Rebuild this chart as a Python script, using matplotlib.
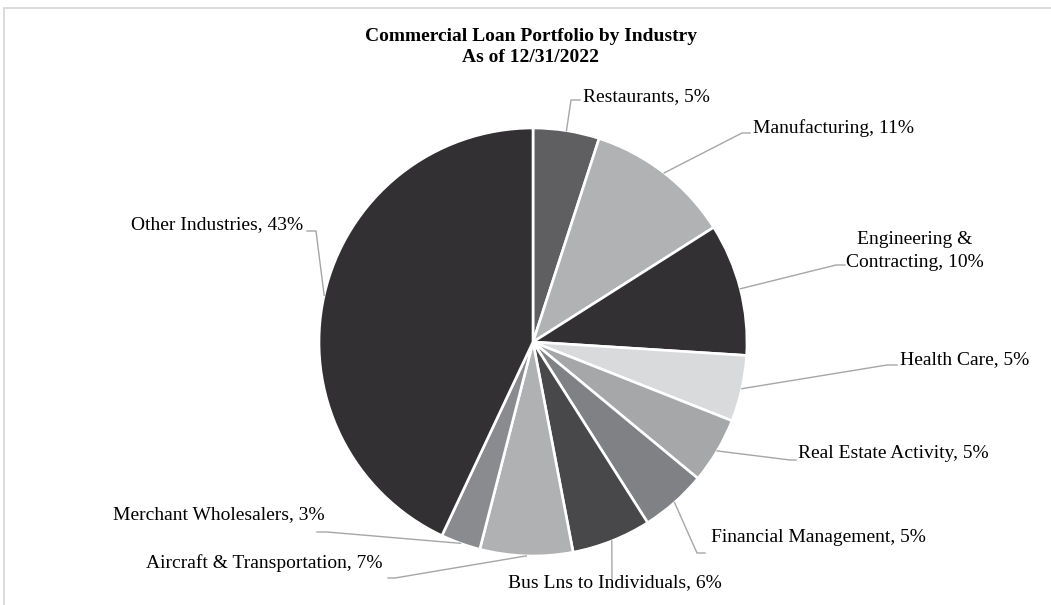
import numpy as np
import matplotlib
matplotlib.use('Agg')
import matplotlib.pyplot as plt
from matplotlib.lines import Line2D
from matplotlib.patches import Rectangle

# данные
industries = ['Restaurants', 'Manufacturing', 'Engineering &\nContracting', 'Health Care',
              'Real Estate Activity', 'Financial Management', 'Bus Lns to Individuals',
              'Aircraft & Transportation', 'Merchant Wholesalers', 'Other Industries']
shares = [5, 11, 10, 5, 5, 5, 6, 7, 3, 43]
colors = ['#5f5e60', '#b1b2b4', '#323032', '#d9dadb', '#a6a7a9',
          '#808184', '#48484a', '#b0b1b3', '#8a8b8e', '#323032']

W, H = 1051, 605
cx, cy, r = 533, 342, 214  # центр и радиус круга в пикселях (y сверху)

# позиции подписей (пиксели, y сверху): x, y, выравнивание, излом выноски
label_pos = [
    (583, 97, 'left', [(571, 100), (580, 100)]),
    (753, 128, 'left', [(742, 133), (750, 133)]),
    (915, 251, 'center', [(836, 265), (845, 265)]),
    (900, 360, 'left', [(887, 365), (897, 365)]),
    (798, 453, 'left', [(790, 460), (796, 460)]),
    (711, 537, 'left', [(697, 553), (705, 553)]),
    (615, 583, 'center', [(612, 578)]),
    (383, 563, 'right', [(395, 578), (388, 578)]),
    (325, 515, 'right', [(327, 532), (317, 532)]),
    (303, 225, 'right', [(316, 231), (307, 231)]),
]

plt.rcParams['font.family'] = ['Liberation Serif', 'DejaVu Serif']

fig = plt.figure(figsize=(W / 100, H / 100), dpi=100)
fig.patch.set_facecolor('white')


def fx(x):
    return x / W


def fy(y):
    return 1 - y / H


ax = fig.add_axes([fx(cx - r), fy(cy + r), 2 * r / W, 2 * r / H])
ax.pie(shares, colors=colors, startangle=90, counterclock=False, radius=1,
       wedgeprops=dict(edgecolor='white', linewidth=1.9))
ax.set_xlim(-1, 1)
ax.set_ylim(-1, 1)
ax.axis('off')

# рамка области диаграммы
fig.patches.append(Rectangle((fx(4), fy(H + 20)), 1.2, fy(8) - fy(H + 20),
                             transform=fig.transFigure, fill=False,
                             edgecolor='#d9d9d9', linewidth=1.3, clip_on=False))

fig.text(fx(531), fy(47), 'Commercial Loan Portfolio by Industry\nAs of 12/31/2022',
         ha='center', va='center', fontsize=14, fontweight='bold', linespacing=1.3,
         color='black')

total = sum(shares)
cum = 0
for i in range(len(shares)):
    mid = 90 - (cum + shares[i] / 2) / total * 360
    cum += shares[i]
    ex = cx + r * np.cos(np.radians(mid))
    ey = cy - r * np.sin(np.radians(mid))
    tx, ty, ha, elbow = label_pos[i]
    pts = [(ex, ey)] + elbow
    fig.lines.append(Line2D([fx(p[0]) for p in pts], [fy(p[1]) for p in pts],
                            transform=fig.transFigure, color='#a6a6a6', linewidth=1.0))
    fig.text(fx(tx), fy(ty), '{}, {}%'.format(industries[i], shares[i]),
             ha=ha, va='center', fontsize=14, color='black', linespacing=1.45,
             multialignment='center')

plt.savefig('out.png', dpi=100)
